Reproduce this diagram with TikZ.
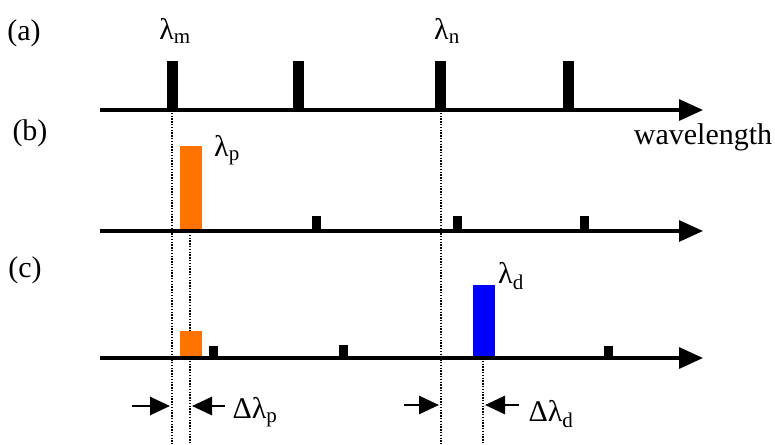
\documentclass[tikz,border=0pt]{standalone}
\usepackage{fontspec}
\setmainfont{Liberation Serif}
\usetikzlibrary{arrows.meta}
\begin{document}
\begin{tikzpicture}[x=1pt,y=-1pt,
 axis/.style={line width=3.2pt,-{Triangle[length=24pt,width=21pt]}},
 guide/.style={line width=1.6pt,dash pattern=on 1.4pt off 1.4pt},
 gap/.style={line width=2.8pt,-{Triangle[length=20pt,width=18pt]}},
 lbl/.style={font=\fontsize{30}{34}\selectfont, inner sep=0pt},
 peak/.style={fill=black},
 small/.style={fill=black},
 pump/.style={fill=orange!90!red},
 drop/.style={fill=blue}
]
\useasboundingbox (0,0) rectangle (775,444);
% guide lines
\draw[guide] (172,110) -- (172,444);
\draw[guide] (190,232) -- (190,444);
\draw[guide] (441,110) -- (441,444);
\draw[guide] (483,358) -- (483,444);
% axes
\coordinate (a0) at (100,110); \coordinate (a1) at (703,110);
\coordinate (b0) at (100,231); \coordinate (b1) at (703,231);
\coordinate (c0) at (100,358); \coordinate (c1) at (703,358);
% (a) peaks
\fill[peak] (167,61) rectangle (178,110);
\fill[peak] (293,61) rectangle (304,110);
\fill[peak] (435,61) rectangle (446,110);
\fill[peak] (563,61) rectangle (574,110);
% (b)
\fill[pump] (180,146) rectangle (202,231);
\fill[small] (312,216) rectangle (321,231);
\fill[small] (453,216) rectangle (462,231);
\fill[small] (580,216) rectangle (589,231);
% (c)
\fill[pump] (180,331) rectangle (202,358);
\fill[small] (209,346) rectangle (218,358);
\fill[small] (339,345) rectangle (348,358);
\fill[drop] (473,285) rectangle (495,358);
\fill[small] (604,346) rectangle (613,358);
\draw[axis] (a0) -- (a1);
\draw[axis] (b0) -- (b1);
\draw[axis] (c0) -- (c1);
% gap arrows
\coordinate (p1s) at (132,406); \coordinate (p1e) at (170,406);
\coordinate (p2s) at (225,406); \coordinate (p2e) at (192,406);
\coordinate (d1s) at (404,405); \coordinate (d1e) at (439,405);
\coordinate (d2s) at (519,405); \coordinate (d2e) at (485,405);
\draw[gap] (p1s) -- (p1e);
\draw[gap] (p2s) -- (p2e);
\draw[gap] (d1s) -- (d1e);
\draw[gap] (d2s) -- (d2e);
% labels
\node[lbl] (la) at (24,33) {(a)};
\node[lbl] (lb) at (30,133) {(b)};
\node[lbl] (lc) at (25,270) {(c)};
\node[lbl] (lm) at (175,31) {λ\textsubscript{m}};
\node[lbl] (ln) at (447,31) {λ\textsubscript{n}};
\node[lbl] (lp) at (227,150) {λ\textsubscript{p}};
\node[lbl] (ld) at (511,276) {λ\textsubscript{d}};
\node[lbl] (dp) at (255,412) {Δλ\textsubscript{p}};
\node[lbl] (dd) at (551,414) {Δλ\textsubscript{d}};
\node[lbl] (wl) at (703,137) {wavelength};
\end{tikzpicture}
\end{document}
